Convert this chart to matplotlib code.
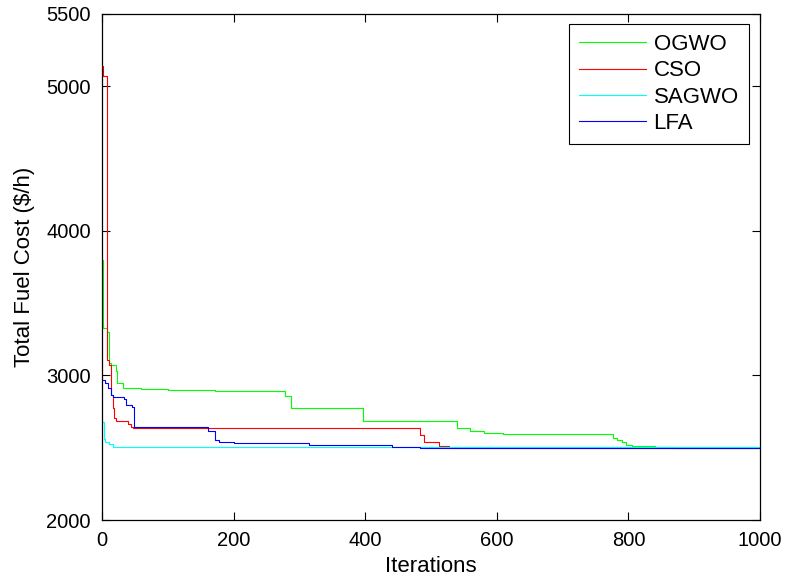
import matplotlib
matplotlib.use("Agg")
import matplotlib.pyplot as plt

plt.rcParams['font.family'] = ['Liberation Sans', 'DejaVu Sans']

# convergence curves as (iteration, cost) steps
ogwo_it = [1, 2, 7, 10, 13, 21, 23, 32, 60, 100, 172, 278, 287, 397, 540, 560, 580, 610,
           776, 782, 790, 797, 805, 840, 870, 1000]
ogwo_cost = [3798, 3328, 3302, 3086, 3072, 3033, 2950, 2911, 2905, 2898, 2892, 2858, 2772, 2685,
             2634, 2618, 2605, 2595, 2570, 2555, 2540, 2520, 2512, 2505, 2500, 2500]

cso_it = [1, 2, 8, 11, 14, 16, 19, 21, 40, 44, 47, 483, 490, 512, 528, 1000]
cso_cost = [5140, 5071, 3107, 3072, 2865, 2772, 2703, 2685, 2664, 2645, 2634, 2588, 2542, 2512,
            2500, 2500]

sagwo_it = [1, 3, 5, 10, 16, 112, 1000]
sagwo_cost = [2680, 2560, 2542, 2525, 2507, 2502, 2502]

lfa_it = [1, 4, 9, 13, 17, 34, 37, 46, 48, 161, 172, 178, 200, 315, 440, 483, 1000]
lfa_cost = [2968, 2950, 2915, 2865, 2853, 2837, 2796, 2784, 2645, 2618, 2553, 2542, 2530, 2519,
            2507, 2500, 2500]

x_ticks = [0, 200, 400, 600, 800, 1000]
y_ticks = [2000, 3000, 4000, 5000, 5500]

fig = plt.figure(figsize=(7.87, 5.83), dpi=100)
ax = fig.add_axes([0.1296, 0.108, 0.8361, 0.868])

ax.step(ogwo_it, ogwo_cost, where="post", color=(0, 1, 0), lw=0.8, label="OGWO")
ax.step(cso_it, cso_cost, where="post", color=(1, 0, 0), lw=0.8, label="CSO")
ax.step(sagwo_it, sagwo_cost, where="post", color=(0, 1, 1), lw=0.8, label="SAGWO")
ax.step(lfa_it, lfa_cost, where="post", color=(0, 0, 1), lw=0.8, label="LFA")

ax.set_xlim(0, 1000)
ax.set_ylim(2000, 5500)
ax.set_xticks(x_ticks)
ax.set_yticks(y_ticks)
ax.tick_params(direction="in", length=6, width=0.8, top=True, right=True,
               labelsize=14.5, pad=8)
for s in ax.spines.values():
    s.set_linewidth(0.9)

ax.set_xlabel("Iterations", fontsize=16, labelpad=4)
ax.set_ylabel(r"Total Fuel Cost (\$/h)", fontsize=16, labelpad=8)

leg = ax.legend(loc="upper right", bbox_to_anchor=(0.983, 0.980), fontsize=16,
                fancybox=False, edgecolor="black", framealpha=1,
                handlelength=3.0, handletextpad=0.35, labelspacing=0.24,
                borderpad=0.45, borderaxespad=0)
leg.get_frame().set_linewidth(0.8)

fig.savefig("out.png", dpi=100)
